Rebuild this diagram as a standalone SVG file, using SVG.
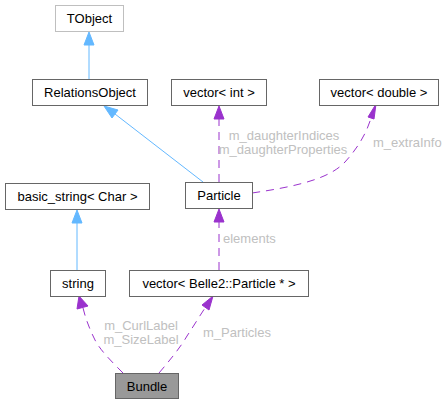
<svg xmlns="http://www.w3.org/2000/svg" width="447" height="404" viewBox="0 0 447 404">
<style>
.node rect{fill:#ffffff;stroke:#666666;stroke-width:1}
.node text{font-family:"Liberation Sans",Arial,sans-serif;font-size:13px;fill:#000000;text-anchor:middle}
.inh{fill:none;stroke:#63b8ff;stroke-width:1}
.inhh{fill:#63b8ff;stroke:#63b8ff}
.use{fill:none;stroke:#9a32cd;stroke-width:1;stroke-dasharray:8,6}
.useh{fill:#9a32cd;stroke:#9a32cd}
.lbl{font-family:"Liberation Sans",Arial,sans-serif;font-size:13px;fill:#c0c0c0}
</style>
<rect width="447" height="404" fill="#ffffff"/>
<g id="edges">
<path class="inh" d="M89,79 L89,45"/>
<polygon class="inhh" points="89,32 84,45 94,45"/>
<path class="inh" d="M203,182 L115,114"/>
<polygon class="inhh" points="104,106 118,110 112,118"/>
<path class="inh" d="M77,270 L77,223"/>
<polygon class="inhh" points="77,210 72,223 82,223"/>
<path class="use" d="M219,182 L219,119"/>
<polygon class="useh" points="219,106 214,119 224,119"/>
<path class="use" d="M252,193 C300,186 330,178 345,162 C356,150 366,135 371,118"/>
<polygon class="useh" points="376,104 368,117 374,119"/>
<text class="lbl" x="284" y="140" text-anchor="middle">m_daughterIndices</text>
<text class="lbl" x="283" y="154" text-anchor="middle">m_daughterProperties</text>
<text class="lbl" x="373" y="147">m_extraInfo</text>
<path class="use" d="M219,270 L219,222"/>
<polygon class="useh" points="219,209 214,222 224,222"/>
<text class="lbl" x="223" y="243">elements</text>
<path class="use" d="M123,373 C112,362 100,350 95,340 C90,330 86,320 83,308"/>
<polygon class="useh" points="79,296 77,309 88,306"/>
<text class="lbl" x="141" y="330" text-anchor="middle">m_CurlLabel</text>
<text class="lbl" x="141" y="344" text-anchor="middle">m_SizeLabel</text>
<path class="use" d="M159,373 C170,360 180,348 187,336 C193,327 199,317 205,308"/>
<polygon class="useh" points="213,296 202,305 209,310"/>
<text class="lbl" x="203" y="337">m_Particles</text>
</g>
<g id="node-TObject" class="node"><rect x="55.5" y="5.5" width="68" height="26" style="stroke:#bfbfbf"/><text x="89.5" y="23">TObject</text></g>
<g id="node-RelationsObject" class="node"><rect x="32.5" y="79.5" width="115" height="26"/><text x="90" y="97">RelationsObject</text></g>
<g id="node-vector-int" class="node"><rect x="171.5" y="79.5" width="95" height="26"/><text x="219" y="97">vector&lt; int &gt;</text></g>
<g id="node-vector-double" class="node"><rect x="319.5" y="79.5" width="119" height="26"/><text x="379" y="97">vector&lt; double &gt;</text></g>
<g id="node-basic_string" class="node"><rect x="5.5" y="183.5" width="144" height="26"/><text x="77.5" y="201">basic_string&lt; Char &gt;</text></g>
<g id="node-Particle" class="node"><rect x="185.5" y="182.5" width="67" height="26"/><text x="219" y="200">Particle</text></g>
<g id="node-string" class="node"><rect x="50.5" y="270.5" width="55" height="26"/><text x="78" y="288">string</text></g>
<g id="node-vector-particle" class="node"><rect x="129.5" y="270.5" width="179" height="26"/><text x="219" y="288">vector&lt; Belle2::Particle * &gt;</text></g>
<g id="node-Bundle" class="node"><rect x="115.5" y="373.5" width="63" height="25" style="fill:#999999"/><text x="147" y="391">Bundle</text></g>
</svg>
